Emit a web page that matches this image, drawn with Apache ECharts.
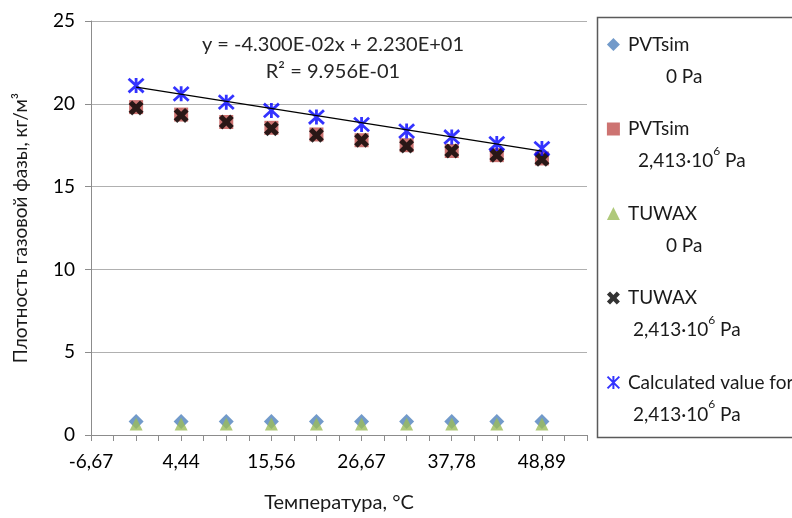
<!DOCTYPE html>
<html>
<head>
<meta charset="utf-8">
<script src="https://cdn.jsdelivr.net/npm/echarts@6/dist/echarts.min.js"></script>
<style>html,body{margin:0;padding:0;background:#fff}#c{width:792px;height:518px}</style>
</head>
<body>
<div id="c"></div>
<script>
// ---- data ----
const temperaturesC = [-1.11, 4.44, 10.00, 15.56, 21.11, 26.67, 32.22, 37.78, 43.33, 48.89];
const pvtsim0 = [0.82, 0.82, 0.82, 0.82, 0.82, 0.82, 0.82, 0.82, 0.82, 0.82];
const pvtsim2413 = [19.8, 19.35, 18.9, 18.55, 18.15, 17.8, 17.5, 17.15, 16.9, 16.7];
const tuwax0 = [0.66, 0.66, 0.66, 0.66, 0.66, 0.66, 0.66, 0.66, 0.66, 0.66];
const tuwax2413 = [19.75, 19.3, 18.9, 18.5, 18.1, 17.8, 17.45, 17.15, 16.9, 16.65];
const calculated2413 = [21.1, 20.6, 20.1, 19.6, 19.2, 18.75, 18.35, 18.0, 17.6, 17.3];
const xTickLabels = ['-6,67', '4,44', '15,56', '26,67', '37,78', '48,89'];
const yTickValues = [0, 5, 10, 15, 20, 25];
const seriesNames = ['PVTsim 0 Pa', 'PVTsim 2.413e6 Pa', 'TUWAX 0 Pa', 'TUWAX 2.413e6 Pa', 'Calculated 2.413e6 Pa'];
const legendFirstLines = ['PVTsim', 'PVTsim', 'TUWAX', 'TUWAX', 'Calculated value for'];
const legendSecondLines = ['0 Pa', '2,413·10⁶ Pa', '0 Pa', '2,413·10⁶ Pa', '2,413·10⁶ Pa'];
const trendSlopeF = -0.043;      // trend fitted against °F
const trendInterceptF = 22.30;
const trendLabels = ['y = -4.300E-02x + 2.230E+01', 'R² = 9.956E-01'];
const xAxisTitle = 'Температура, °C';
const yAxisTitle = 'Плотность газовой фазы, кг/м³';

// ---- chart ----
const FONT = 'Lato, "Noto Sans", sans-serif';
const xMin = (20 - 32) * 5 / 9;
const xMax = (130 - 32) * 5 / 9;
const xStep = 25 / 9;

const pair = (ys) => temperaturesC.map((x, i) => [x, ys[i]]);
const trendAt = (c) => trendInterceptF + trendSlopeF * (c * 9 / 5 + 32);
const trendData = [temperaturesC[0], temperaturesC[temperaturesC.length - 1]].map(c => [c, trendAt(c)]);

const legendOffsets = [41, 13, 41, 8, 8];
const rich = {
  e: {lineHeight: 32, fontSize: 19, fontFamily: FONT},
  a: {lineHeight: 32, fontSize: 19, fontFamily: FONT, color: '#1a1a1a', padding: [0, 0, 0, 3]},
  c: {lineHeight: 32, fontSize: 19, fontFamily: FONT, color: '#1a1a1a'},
  s: {lineHeight: 29, fontSize: 12, fontFamily: FONT, color: '#1a1a1a', verticalAlign: 'top'}
};
legendOffsets.forEach((o, i) => {
  rich['b' + i] = {lineHeight: 32, fontSize: 19, fontFamily: FONT, color: '#1a1a1a', padding: [0, 0, 0, o]};
});

const X_PATH = 'path://M0,2.4 L2.4,0 L5,2.6 L7.6,0 L10,2.4 L7.4,5 L10,7.6 L7.6,10 L5,7.4 L2.4,10 L0,7.6 L2.6,5 Z';
const STAR_PATH = 'path://M0,0 L20,20 M20,0 L0,20 M10,-1 L10,21';

const chart = echarts.init(document.getElementById('c'), null, {renderer: 'canvas'});
chart.setOption({
  animation: false,
  backgroundColor: '#fff',
  grid: {left: 91, right: 205, top: 21, bottom: 82},
  xAxis: {
    type: 'value', min: xMin, max: xMax, interval: xStep,
    axisLine: {show: true, onZero: false, lineStyle: {color: '#8c8c8c', width: 1}},
    axisTick: {show: true, length: 6, lineStyle: {color: '#8c8c8c'}},
    splitLine: {show: false},
    axisLabel: {
      margin: 17, fontSize: 19, fontFamily: FONT, color: '#000',
      formatter: (v) => {
        const k = Math.round((v - xMin) / xStep);
        return (k % 4 === 0 && xTickLabels[k / 4] !== undefined) ? xTickLabels[k / 4] : '';
      }
    },
    name: xAxisTitle, nameLocation: 'middle', nameGap: 58,
    nameTextStyle: {fontSize: 20, fontFamily: FONT, color: '#1a1a1a'}
  },
  yAxis: {
    type: 'value', min: yTickValues[0], max: yTickValues[yTickValues.length - 1], interval: yTickValues[1] - yTickValues[0],
    axisLine: {show: true, onZero: false, lineStyle: {color: '#8c8c8c', width: 1}},
    axisTick: {show: true, length: 6, lineStyle: {color: '#8c8c8c'}},
    splitLine: {show: true, lineStyle: {color: '#b0b0b0', width: 1}},
    axisLabel: {margin: 16, fontSize: 19, fontFamily: FONT, color: '#000'},
    name: yAxisTitle, nameLocation: 'middle', nameGap: 61,
    nameTextStyle: {fontSize: 19, fontFamily: FONT, color: '#1a1a1a'}
  },
  legend: {
    orient: 'vertical', left: 605, top: 3, padding: 0, itemGap: 1.5,
    itemWidth: 13, itemHeight: 13,
    data: seriesNames,
    textStyle: {fontFamily: FONT, fontSize: 19, color: '#1a1a1a', rich: rich},
    formatter: (name) => {
      const i = seriesNames.indexOf(name);
      const second = legendSecondLines[i];
      let line2;
      if (second.indexOf('⁶') >= 0) {
        const parts = second.split('⁶');
        line2 = '{b' + i + '|' + parts[0] + '}{s|6}{c|' + parts[1] + '}';
      } else {
        line2 = '{b' + i + '|' + second + '}';
      }
      return '{e| }\n{a|' + legendFirstLines[i] + '}\n' + line2;
    }
  },
  graphic: [
    {type: 'rect', shape: {x: 597.5, y: 17.5, width: 260, height: 420}, style: {fill: 'none', stroke: '#5a5a5a', lineWidth: 1.5}, z: 1},
    {type: 'text', x: 333, y: 45, style: {text: trendLabels[0], fontSize: 20, fontFamily: FONT, fill: '#262626', align: 'center', textAlign: 'center', verticalAlign: 'middle', textVerticalAlign: 'middle'}},
    {type: 'text', x: 333, y: 72, style: {text: trendLabels[1], fontSize: 20, fontFamily: FONT, fill: '#262626', align: 'center', textAlign: 'center', verticalAlign: 'middle', textVerticalAlign: 'middle'}}
  ],
  series: [
    {name: seriesNames[0], type: 'scatter', data: pair(pvtsim0), symbol: 'diamond', symbolSize: 15,
     itemStyle: {color: '#4f81bd'}, z: 3},
    {name: seriesNames[1], type: 'scatter', data: pair(pvtsim2413), symbol: 'rect', symbolSize: 14,
     itemStyle: {color: '#c0504d'}, z: 3},
    {name: seriesNames[2], type: 'scatter', data: pair(tuwax0), symbol: 'triangle', symbolSize: 13,
     itemStyle: {color: '#9bbb59'}, z: 4},
    {name: seriesNames[3], type: 'scatter', data: pair(tuwax2413), symbol: X_PATH, symbolSize: 15,
     itemStyle: {color: '#000'}, z: 5},
    {name: seriesNames[4], type: 'scatter', data: pair(calculated2413), symbol: STAR_PATH, symbolSize: 15,
     itemStyle: {color: 'none', borderColor: '#0000ff', borderWidth: 2.8}, z: 6},
    {name: 'trend', type: 'line', data: trendData, symbol: 'none', silent: true,
     lineStyle: {color: '#000', width: 1.4}, z: 7}
  ]
});
</script>
</body>
</html>
